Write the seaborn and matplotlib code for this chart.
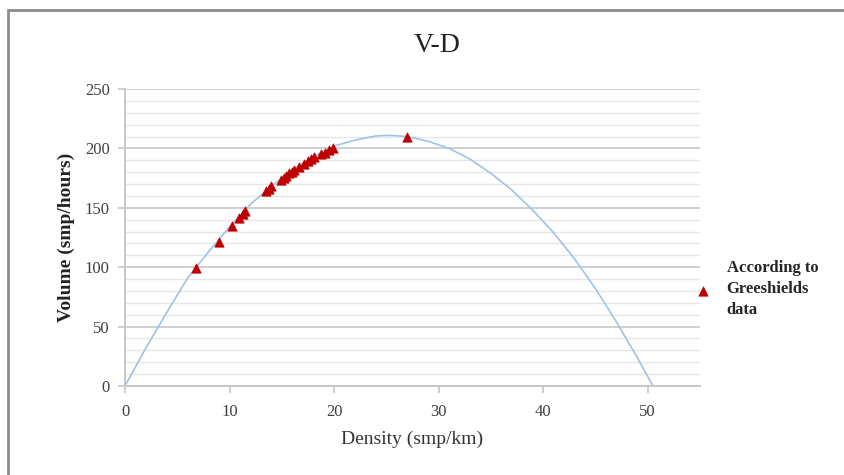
import matplotlib
matplotlib.use("Agg")
import matplotlib.pyplot as plt
import seaborn as sns
import pandas as pd
from matplotlib.patches import Rectangle
from matplotlib.ticker import MultipleLocator

# Greenshields curve
curve_density = [0, 2, 4, 6, 8, 10, 12, 14, 16, 18, 20, 22, 24, 25.3, 27,
                 29, 31, 33, 35, 37, 39, 41, 43, 45, 47, 49, 50.5]
curve_volume = [0, 32, 62, 91, 113, 134, 153, 168, 182, 193, 202, 207, 210.5,
                211, 210, 206, 200, 191, 179, 165, 148, 129, 107, 82, 54, 24, 0]

# observed points
obs_density = [6.8, 9.0, 10.2, 10.9, 11.25, 11.5, 13.5, 13.8, 14.0, 14.9, 15.2,
               15.4, 15.7, 16.0, 16.2, 16.6, 17.1, 17.5, 17.8, 18.1, 18.7,
               19.1, 19.5, 19.9, 27.0]
obs_volume = [99.5, 121, 135, 141, 144.5, 147.5, 164, 166, 168, 173.5, 175.5,
              177, 179, 180.5, 182, 184, 186.5, 189, 191, 192.5, 195,
              196.5, 198.5, 200, 210]

curve = pd.DataFrame({"Density": curve_density, "Volume": curve_volume})
obs = pd.DataFrame({"Density": obs_density, "Volume": obs_volume})

sns.set_theme(style="white")
plt.rcParams['font.family'] = ['Liberation Serif', 'DejaVu Serif']

fig = plt.figure(figsize=(8.44, 4.75), dpi=100)
ax = fig.add_axes([125 / 844, 1 - 386 / 475, 575 / 844, 297 / 475])

# outer chart frame (only top and left edges visible)
fig.patches.append(Rectangle((8 / 844, -0.1), 1.2, 1 - 10 / 475 + 0.1,
                             transform=fig.transFigure, fill=False,
                             edgecolor='#8c8c8c', linewidth=2))

sns.lineplot(data=curve, x="Density", y="Volume", ax=ax, sort=False,
             color='#9dc3e6', linewidth=1.2, zorder=2)
sns.scatterplot(data=obs, x="Density", y="Volume", ax=ax, marker='^',
                color='#c00000', edgecolor='#c00000', s=45, zorder=3,
                label="According to\nGreeshields\ndata")

ax.set_xlim(0, 55)
ax.set_ylim(0, 250)
ax.xaxis.set_major_locator(MultipleLocator(10))
ax.yaxis.set_major_locator(MultipleLocator(50))
ax.yaxis.set_minor_locator(MultipleLocator(10))
ax.grid(True, which='major', axis='y', color='#cfcfcf', linewidth=1.4)
ax.grid(True, which='minor', axis='y', color='#e6e6e6', linewidth=1.0)
ax.set_axisbelow(True)

for s in ['top', 'right']:
    ax.spines[s].set_visible(False)
for s in ['left', 'bottom']:
    ax.spines[s].set_color('#c8c8c8')
    ax.spines[s].set_linewidth(1.4)
ax.tick_params(axis='both', which='major', length=5, color='#c8c8c8',
               labelsize=12, labelcolor='#404040', direction='out',
               bottom=True, left=True)
ax.tick_params(axis='x', which='major', pad=8)
ax.tick_params(axis='y', which='major', pad=6)
ax.tick_params(axis='y', which='minor', left=False)
ax.set_xticks([0, 10, 20, 30, 40, 50])

ax.set_xlabel('Density (smp/km)', fontsize=14, color='#333333', labelpad=8)
ax.set_ylabel('Volume (smp/hours)', fontsize=14, fontweight='bold',
              color='#222222', labelpad=7)
fig.text(437 / 844, 1 - 45 / 475, 'V-D', ha='center', va='center',
         fontsize=20, color='#222222')

leg = ax.legend(loc='center left', frameon=False, handletextpad=1.0,
                handlelength=0.8, borderaxespad=0.0, borderpad=0.4,
                prop={'family': 'Liberation Serif', 'weight': 'bold', 'size': 12})
for t in leg.get_texts():
    t.set_linespacing(1.45)
leg.set_bbox_to_anchor((1 - 10 / 575, 1 - (289 - 89) / 297), transform=ax.transAxes)

fig.savefig('out.png', dpi=100)
